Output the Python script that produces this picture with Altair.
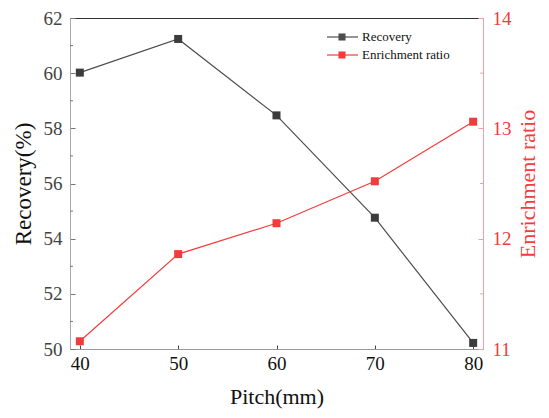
import altair as alt
import pandas as pd

pitch = [40, 50, 60, 70, 80]
recovery = [60.02, 61.24, 58.47, 54.76, 50.22]
enrichment = [11.07, 11.86, 12.14, 12.52, 13.06]

rec_minor = [51, 53, 55, 57, 59, 61]
enr_minor = [11.5, 12.5, 13.5]

legend_names = ["Recovery", "Enrichment ratio"]
legend_colors = ["#4d4d4d", "#f53b3b"]

GREY = "#4d4d4d"
RED = "#f53b3b"
FONT = "Liberation Serif"

W, H = 413, 331

df = pd.DataFrame({"pitch": pitch, "recovery": recovery, "enrichment": enrichment})

xscale = alt.Scale(domain=[39, 81])
xax = alt.Axis(values=[40, 50, 60, 70, 80], title="Pitch(mm)", grid=False,
               tickSize={"expr": "-4"}, tickColor="#444", domainColor="#999",
               labelFont=FONT, labelFontSize=19, labelColor="#111", labelPadding=9,
               titleFont=FONT, titleFontSize=22, titleFontWeight="normal",
               titleColor="#111", titlePadding=13)

base = alt.Chart(df)

rec_y = alt.Y("recovery:Q", scale=alt.Scale(domain=[50, 62], nice=False, zero=False),
              axis=alt.Axis(values=[50, 52, 54, 56, 58, 60, 62], title="Recovery(%)", grid=False,
                            tickSize={"expr": "-5"}, tickColor="#777", domainColor="#aaa",
                            labelFont=FONT, labelFontSize=19, labelColor="#444", labelPadding=13,
                            titleFont=FONT, titleFontSize=23, titleFontWeight="normal",
                            titleColor="#111", titlePadding=8))

rec_line = base.mark_line(color=GREY, strokeWidth=1.2).encode(
    x=alt.X("pitch:Q", scale=xscale, axis=xax), y=rec_y)
rec_pts = base.mark_square(color="#3c3c3c", size=64, opacity=1).encode(
    x=alt.X("pitch:Q", scale=xscale), y="recovery:Q")
rec_minor_df = pd.DataFrame({"v": rec_minor})
rec_minor_marks = alt.Chart(rec_minor_df).mark_rule(color="#777", strokeWidth=1).encode(
    y="v:Q", x=alt.value(0), x2=alt.value(3))

enr_y = alt.Y("enrichment:Q", scale=alt.Scale(domain=[11, 14], nice=False, zero=False),
              axis=alt.Axis(orient="right", values=[11, 12, 13, 14], title="Enrichment ratio",
                            grid=False, format="d", titleAngle=270, titleBaseline="top",
                            tickSize={"expr": "-5"}, tickColor="#f7a0a0", domainColor="#f7a0a0",
                            labelFont=FONT, labelFontSize=19, labelColor=RED, labelPadding=14,
                            titleFont=FONT, titleFontSize=22, titleFontWeight="normal",
                            titleColor=RED, titlePadding=6))

enr_line = base.mark_line(color=RED, strokeWidth=1.2).encode(
    x=alt.X("pitch:Q", scale=xscale), y=enr_y)
enr_pts = base.mark_square(color="#f03c3c", size=64, opacity=1).encode(
    x=alt.X("pitch:Q", scale=xscale), y="enrichment:Q")
enr_minor_df = pd.DataFrame({"v": enr_minor})
enr_minor_marks = alt.Chart(enr_minor_df).mark_rule(color="#f7a0a0", strokeWidth=1).encode(
    y="v:Q", x=alt.value(W - 3), x2=alt.value(W))

# legend
leg = pd.DataFrame({"name": legend_names, "color": legend_colors, "row": [0, 1]})
leg_base = alt.Chart(leg).transform_calculate(yy="19 + datum.row * 18")
leg_lines = leg_base.mark_rule(strokeWidth=1.2).encode(
    x=alt.value(257), x2=alt.value(288), y=alt.Y("yy:Q", scale=None),
    color=alt.Color("color:N", scale=None))
leg_sq = leg_base.mark_square(size=50, opacity=1).encode(
    x=alt.value(272), y=alt.Y("yy:Q", scale=None),
    color=alt.Color("color:N", scale=None))
leg_txt = leg_base.mark_text(align="left", baseline="middle", font=FONT, fontSize=13,
                             color="#111").encode(
    x=alt.value(292), y=alt.Y("yy:Q", scale=None), text="name:N")

left = alt.layer(rec_line, rec_pts, rec_minor_marks)
right = alt.layer(enr_line, enr_pts, enr_minor_marks)

chart = alt.layer(left, right, leg_lines, leg_sq, leg_txt).resolve_scale(
    y="independent").properties(
    width=W, height=H,
    autosize=alt.AutoSizeParams(type="none"),
    padding={"left": 62, "top": 10, "right": 58, "bottom": 61},
).configure_view(stroke="#333", strokeWidth=1)

chart.save("out.html", embed_options={"renderer": "svg", "actions": False})
